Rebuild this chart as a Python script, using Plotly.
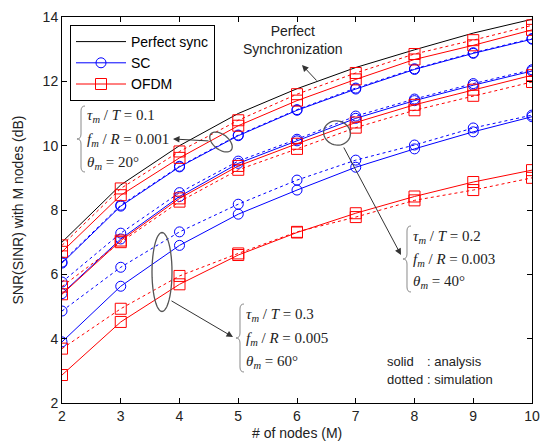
import math
import plotly.graph_objects as go

# ---------------- data ----------------
M = [2, 3, 4, 5, 6, 7, 8, 9, 10]
perfect = [7.0, 8.78, 10.0, 11.0, 11.77, 12.43, 12.98, 13.5, 13.93]

sc1_ana = [6.35, 8.12, 9.34, 10.31, 11.1, 11.76, 12.37, 12.87, 13.31]
sc1_sim = [6.38, 8.15, 9.36, 10.33, 11.12, 11.79, 12.39, 12.89, 13.33]
ofdm1_ana = [6.7, 8.46, 9.62, 10.62, 11.4, 12.06, 12.68, 13.12, 13.6]
ofdm1_sim = [6.9, 8.67, 9.82, 10.79, 11.6, 12.26, 12.85, 13.28, 13.74]

sc2_ana = [5.4, 7.1, 8.42, 9.45, 10.15, 10.85, 11.4, 11.88, 12.32]
sc2_sim = [5.76, 7.28, 8.54, 9.52, 10.2, 10.92, 11.45, 11.93, 12.36]
ofdm2_ana = [5.38, 7.05, 8.36, 9.37, 10.06, 10.72, 11.27, 11.74, 12.19]
ofdm2_sim = [5.62, 7.0, 8.26, 9.25, 9.9, 10.56, 11.1, 11.55, 11.98]

sc3_ana = [3.9, 5.63, 6.9, 7.87, 8.62, 9.33, 9.9, 10.43, 10.9]
sc3_sim = [4.86, 6.22, 7.32, 8.18, 8.93, 9.55, 10.02, 10.55, 10.95]
ofdm3_ana = [2.87, 4.52, 5.69, 6.6, 7.3, 7.9, 8.42, 8.87, 9.24]
ofdm3_sim = [3.69, 4.93, 5.95, 6.65, 7.32, 7.78, 8.3, 8.62, 9.0]

x_ticks = [2, 3, 4, 5, 6, 7, 8, 9, 10]
y_ticks = [2, 4, 6, 8, 10, 12, 14]
x_title = "# of nodes (M)"
y_title = "SNR(SINR) with M nodes (dB)"

case_labels = [
    ["<i>τ<sub>m</sub></i> / <i>T</i> = 0.1", "<i>f<sub>m</sub></i> / <i>R</i> = 0.001", "<i>θ<sub>m</sub></i> = 20°"],
    ["<i>τ<sub>m</sub></i> / <i>T</i> = 0.2", "<i>f<sub>m</sub></i> / <i>R</i> = 0.003", "<i>θ<sub>m</sub></i> = 40°"],
    ["<i>τ<sub>m</sub></i> / <i>T</i> = 0.3", "<i>f<sub>m</sub></i> / <i>R</i> = 0.005", "<i>θ<sub>m</sub></i> = 60°"],
]

# ---------------- layout geometry (page pixels) ----------------
OFF = 8                      # page body margin
PL, PT = 62, 17              # plot area top-left in page pixels
PW, PH = 470, 386            # plot area size
W, H = 536, 437              # figure size
L, T = PL - OFF, PT - OFF
R = W - L - PW
B = H - T - PH


def px(xp):
    return (xp - PL) / PW


def py(yp):
    return (PT + PH - yp) / PH


BLUE = "#0000ff"
RED = "#ff0000"

fig = go.Figure()

fig.add_trace(go.Scatter(x=M, y=perfect, mode="lines", name="Perfect sync",
                         line=dict(color="black", width=1)))

series = [
    (sc1_ana, sc1_sim, BLUE, "circle", 10, "SC"),
    (ofdm1_ana, ofdm1_sim, RED, "square", 11, "OFDM"),
    (sc2_ana, sc2_sim, BLUE, "circle", 10, "SC"),
    (ofdm2_ana, ofdm2_sim, RED, "square", 11, "OFDM"),
    (sc3_ana, sc3_sim, BLUE, "circle", 10, "SC"),
    (ofdm3_ana, ofdm3_sim, RED, "square", 11, "OFDM"),
]
shown = set()
for ana, sim, col, sym, sz, nm in series:
    fig.add_trace(go.Scatter(
        x=M, y=ana, mode="lines+markers", name=nm, legendgroup=nm,
        showlegend=nm not in shown,
        line=dict(color=col, width=1),
        marker=dict(symbol=sym + "-open", size=sz, color=col, line=dict(width=1, color=col))))
    shown.add(nm)
    fig.add_trace(go.Scatter(
        x=M, y=sim, mode="lines+markers", name=nm, legendgroup=nm, showlegend=False,
        line=dict(color=col, width=1, dash="3px,3px"),
        marker=dict(symbol=sym + "-open", size=sz, color=col, line=dict(width=1, color=col))))

shapes = []
annotations = []


def ellipse_path(cx, cy, rx, ry, ang_deg, n=48):
    a = math.radians(ang_deg)
    pts = []
    for i in range(n):
        t = 2 * math.pi * i / n
        ex, ey = rx * math.cos(t), ry * math.sin(t)
        xx = cx + ex * math.cos(a) - ey * math.sin(a)
        yy = cy + ex * math.sin(a) + ey * math.cos(a)
        pts.append((px(xx), py(yy)))
    d = "M %.5f,%.5f " % pts[0] + " ".join("L %.5f,%.5f" % p for p in pts[1:]) + " Z"
    return d


def brace_path(x0, ytop, ybot, w=4, r=5):
    ym = (ytop + ybot) / 2
    d = ("M %.5f,%.5f Q %.5f,%.5f %.5f,%.5f L %.5f,%.5f Q %.5f,%.5f %.5f,%.5f "
         "Q %.5f,%.5f %.5f,%.5f L %.5f,%.5f Q %.5f,%.5f %.5f,%.5f") % (
        px(x0 + w), py(ytop), px(x0), py(ytop), px(x0), py(ytop + r),
        px(x0), py(ym - r), px(x0), py(ym), px(x0 - w), py(ym),
        px(x0), py(ym), px(x0), py(ym + r),
        px(x0), py(ybot - r), px(x0), py(ybot), px(x0 + w), py(ybot))
    return d


# ellipses
for cx, cy, rx, ry, ang in [(221, 142, 13, 7.5, 38), (337, 133, 13.5, 12, 15), (162, 272, 10, 39.5, 0)]:
    shapes.append(dict(type="path", path=ellipse_path(cx, cy, rx, ry, ang), xref="paper", yref="paper",
                       line=dict(color="#555555", width=1.3)))

# braces and labels
label_pos = [(85, [116, 140, 163], 81, 106, 172),
             (411, [237, 260, 282], 407, 226, 292),
             (244, [315, 339, 362], 240, 304, 372)]
for (tx, ys, bx, bt, bb), lines in zip(label_pos, case_labels):
    shapes.append(dict(type="path", path=brace_path(bx, bt, bb), xref="paper", yref="paper",
                       line=dict(color="#8a8a8a", width=1)))
    for yy, txt in zip(ys, lines):
        annotations.append(dict(x=px(tx), y=py(yy), xref="paper", yref="paper", text=txt,
                                showarrow=False, xanchor="left", yanchor="middle",
                                font=dict(family="Liberation Serif", size=15, color="#222222")))

# arrows (head, tail in page pixels)
for (hx, hy), (tlx, tly) in [((302, 65), (318, 82)), ((173, 139), (210, 141)),
                             ((401, 255), (343, 146)), ((233, 337), (170, 300))]:
    annotations.append(dict(x=px(hx), y=py(hy), xref="paper", yref="paper", text="",
                            showarrow=True, ax=tlx - hx, ay=tly - hy, arrowhead=2,
                            arrowsize=1.3, arrowwidth=1, arrowcolor="#333333"))

annotations.append(dict(x=px(293), y=py(40), xref="paper", yref="paper",
                        text="Perfect<br>Synchronization", showarrow=False,
                        xanchor="center", yanchor="middle",
                        font=dict(family="Liberation Sans", size=14, color="#222222")))

for yy, a, b in [(361, "solid", ": analysis"), (379, "dotted", ": simulation")]:
    annotations.append(dict(x=px(385), y=py(yy), xref="paper", yref="paper", text=a,
                            showarrow=False, xanchor="left", yanchor="middle",
                            font=dict(family="Liberation Sans", size=13, color="#222222")))
    annotations.append(dict(x=px(425), y=py(yy), xref="paper", yref="paper", text=b,
                            showarrow=False, xanchor="left", yanchor="middle",
                            font=dict(family="Liberation Sans", size=13, color="#222222")))

# x-axis title as annotation
annotations.append(dict(x=px(297), y=py(433), xref="paper", yref="paper", text=x_title,
                        showarrow=False, xanchor="center", yanchor="middle",
                        font=dict(family="Liberation Sans", size=14, color="#222222")))

axis_common = dict(showline=True, linecolor="black", linewidth=1, mirror="ticks",
                   ticks="inside", ticklen=5, tickcolor="black", showgrid=False, zeroline=False,
                   automargin=False,
                   tickfont=dict(family="Liberation Sans", size=14, color="#222222"))

fig.update_layout(
    width=W, height=H,
    margin=dict(l=L, r=R, t=T, b=B, autoexpand=False),
    paper_bgcolor="white", plot_bgcolor="white",
    xaxis=dict(range=[2, 10], tickvals=x_ticks, ticktext=[str(v) for v in x_ticks],
               **axis_common),
    yaxis=dict(range=[2, 14], tickvals=y_ticks, ticktext=[str(v) for v in y_ticks],
               title=dict(text=y_title,
                          font=dict(family="Liberation Sans", size=14, color="#222222")),
               **axis_common),
    legend=dict(x=px(70), y=py(25), xanchor="left", yanchor="top",
                bgcolor="white", bordercolor="black", borderwidth=1,
                font=dict(family="Liberation Sans", size=14, color="black"),
                tracegroupgap=0, itemwidth=50),
    shapes=shapes,
    annotations=annotations,
    showlegend=True,
)

fig.write_html("out.html")
